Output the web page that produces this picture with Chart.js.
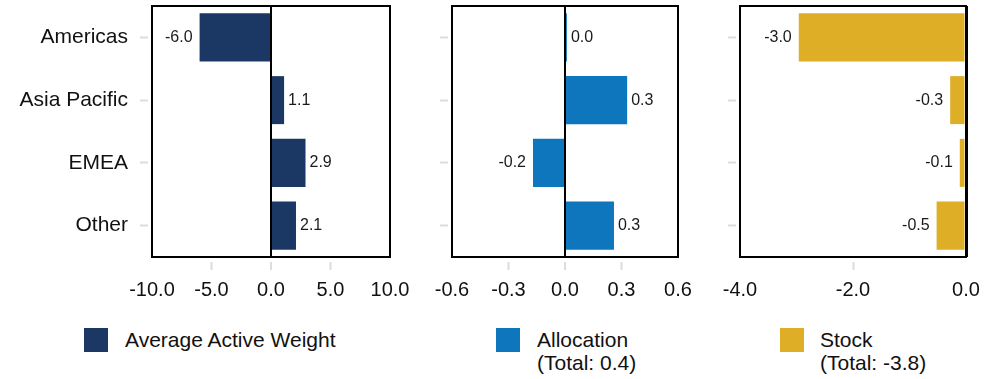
<!DOCTYPE html>
<html>
<head>
<meta charset="utf-8">
<script src="https://cdn.jsdelivr.net/npm/chart.js@4"></script>
<style>
  body { margin: 0; width: 999px; height: 379px; background: #fff; position: relative; overflow: hidden;
         font-family: "Liberation Sans", Arial, sans-serif; color: #111; }
  .panel { position: absolute; top: 0; height: 310px; }
  .sw { position: absolute; top: 328px; width: 24px; height: 24px; }
  .lt { position: absolute; top: 328px; font-size: 21px; line-height: 23px; }
</style>
</head>
<body>
<div class="panel" style="left:0;width:410px"><canvas id="c1"></canvas></div>
<div class="panel" style="left:410px;width:290px"><canvas id="c2"></canvas></div>
<div class="panel" style="left:700px;width:299px"><canvas id="c3"></canvas></div>
<div id="legend"></div>
<script>
// Data
const regions = ["Americas", "Asia Pacific", "EMEA", "Other"];
const activeWeight = [-6.0, 1.1, 2.9, 2.1];
const allocation = [0.01, 0.33, -0.17, 0.26];
const stock = [-2.96, -0.28, -0.11, -0.52];

const seriesNames = ["Average Active Weight", "Allocation", "Stock"];
const seriesTotals = ["", "(Total: 0.4)", "(Total: -3.8)"];
const colors = ["#1b3864", "#0e76bc", "#ddae26"];

const FONT = "'Liberation Sans', Arial, sans-serif";

// box around plot area + value labels at bar ends
const boxAndLabels = {
  id: "boxAndLabels",
  afterDatasetsDraw(chart) {
    const ctx = chart.ctx;
    const meta = chart.getDatasetMeta(0);
    const vals = chart.data.datasets[0].data;
    ctx.save();
    ctx.font = "16px " + FONT;
    ctx.fillStyle = "#1a1a1a";
    ctx.textBaseline = "middle";
    meta.data.forEach((bar, i) => {
      const v = vals[i];
      if (v >= 0) {
        ctx.textAlign = "left";
        ctx.fillText(v.toFixed(1), bar.x + 4, bar.y);
      } else {
        ctx.textAlign = "right";
        ctx.fillText(v.toFixed(1), bar.x - 7, bar.y);
      }
    });
    const a = chart.chartArea;
    ctx.strokeStyle = "#000";
    ctx.lineWidth = 2;
    ctx.strokeRect(a.left, a.top, a.right - a.left, a.bottom - a.top);
    ctx.restore();
  }
};

function noPad(s) {
  s.paddingLeft = 0; s.paddingRight = 0; s.paddingTop = 0; s.paddingBottom = 0;
}

function createChart(id, data, color, min, max, step, yWidth, padRight, showLabels) {
  return new Chart(document.getElementById(id), {
    type: "bar",
    data: {
      labels: regions,
      datasets: [{
        data: data,
        backgroundColor: color,
        borderWidth: 0,
        categoryPercentage: 1,
        barPercentage: 0.765
      }]
    },
    options: {
      indexAxis: "y",
      responsive: true,
      maintainAspectRatio: false,
      animation: false,
      layout: { padding: { top: 6, right: padRight, left: 0, bottom: 0 } },
      plugins: { legend: { display: false }, tooltip: { enabled: false } },
      scales: {
        x: {
          min: min, max: max,
          ticks: {
            stepSize: step,
            padding: 8,
            color: "#111",
            font: { family: FONT, size: 20 },
            maxRotation: 0,
            callback: v => Number(v).toFixed(1)
          },
          grid: {
            drawOnChartArea: true,
            color: c => (c.tick && Math.abs(c.tick.value) < 1e-9) ? "#000" : "rgba(0,0,0,0)",
            lineWidth: c => (c.tick && Math.abs(c.tick.value) < 1e-9) ? (max === 0 ? 3 : 2) : 1,
            tickLength: 13,
            tickColor: c => (c.index === 0 || c.index === c.scale.ticks.length - 1) ? "rgba(0,0,0,0)" : "#dcdcdc",
            tickWidth: 2,
            tickBorderDash: [0, 5, 8, 100]
          },
          border: { display: false },
          afterFit: s => { s.height = 53; noPad(s); }
        },
        y: {
          ticks: {
            display: showLabels,
            padding: 12,
            color: "#111",
            font: { family: FONT, size: 21 }
          },
          grid: {
            offset: false,
            drawOnChartArea: false,
            tickLength: 12,
            tickColor: "#dcdcdc",
            tickWidth: 2,
            tickBorderDash: [8, 100]
          },
          border: { display: false },
          afterFit: s => { s.width = yWidth; noPad(s); }
        }
      }
    },
    plugins: [boxAndLabels]
  });
}

createChart("c1", activeWeight, colors[0], -10, 10, 5, 152, 20, true);
createChart("c2", allocation, colors[1], -0.6, 0.6, 0.3, 42, 22, false);
createChart("c3", stock, colors[2], -4, 0, 2, 40, 33, false);

// Legend
const legendX = [[84, 125], [496, 537], [780, 820]];
const legend = document.getElementById("legend");
seriesNames.forEach((name, i) => {
  const sw = document.createElement("div");
  sw.className = "sw";
  sw.style.left = legendX[i][0] + "px";
  sw.style.background = colors[i];
  legend.appendChild(sw);
  const t = document.createElement("div");
  t.className = "lt";
  t.style.left = legendX[i][1] + "px";
  t.innerHTML = name + (seriesTotals[i] ? "<br>" + seriesTotals[i] : "");
  legend.appendChild(t);
});
</script>
</body>
</html>
